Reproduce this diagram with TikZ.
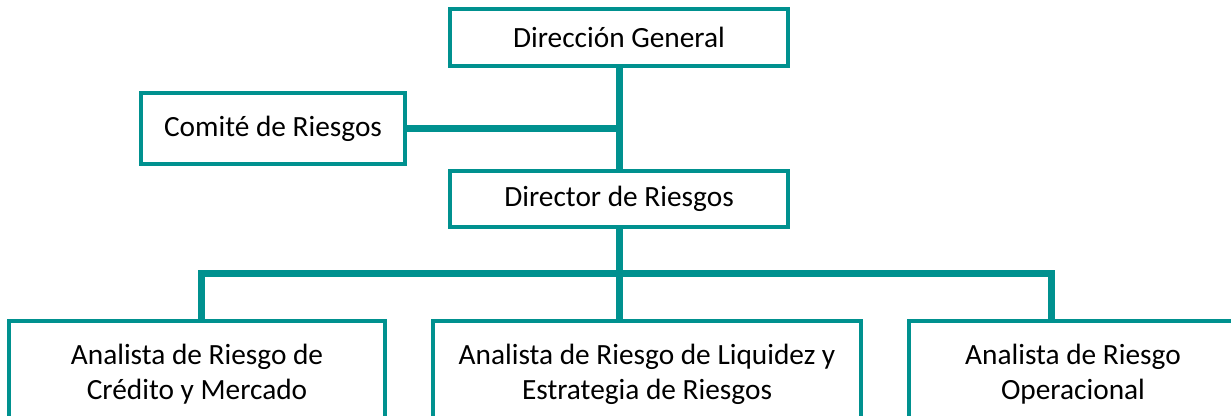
\documentclass[tikz,border=0pt]{standalone}
\usepackage{fontspec}
\setmainfont{Carlito}
\definecolor{orgteal}{RGB}{0,145,143}
\begin{document}
\begin{tikzpicture}[x=0.75pt,y=-0.75pt,
  box/.style={rectangle,draw=orgteal,line width=2.6pt,fill=white,inner sep=0pt,align=center,font=\fontsize{22}{26.25}\selectfont},
  link/.style={draw=orgteal,line width=5.25pt}]
\useasboundingbox (0,0) rectangle (1231,415);
\node (gen) at (619,37.5)[box,minimum width=253.5pt,minimum height=42.75pt]{Dirección General};
\node (com) at (273,128.5)[box,minimum width=198pt,minimum height=53.25pt]{Comité de Riesgos};
\node (dir) at (619,199)[box,minimum width=253.5pt,minimum height=42pt]{Director de Riesgos};
\node (lft) at (197,374)[box,minimum width=282pt,minimum height=79.5pt]{Analista de Riesgo de\\Crédito y Mercado};
\node (mid) at (647,374)[box,minimum width=321pt,minimum height=79.5pt]{Analista de Riesgo de Liquidez y\\Estrategia de Riesgos};
\node (rgt) at (1073,374)[box,minimum width=246pt,minimum height=79.5pt]{Analista de Riesgo\\Operacional};

\coordinate (bus) at (621,273);
\draw[link](gen)--(dir);
\draw[link](com.east)--(com.east -| gen.south);
\draw[link](dir)--(dir |- mid.north);
\draw[link]([xshift=3pt]lft.north)|-(bus)-|([xshift=-16.5pt]rgt.north);
\end{tikzpicture}
\end{document}
